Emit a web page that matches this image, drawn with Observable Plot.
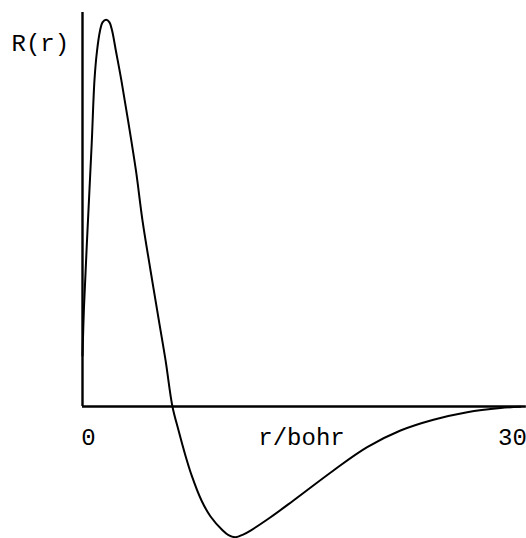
<!DOCTYPE html>
<html>
<head>
<meta charset="utf-8">
<script src="https://cdn.jsdelivr.net/npm/d3@7"></script>
<script src="https://cdn.jsdelivr.net/npm/@observablehq/plot@0.6"></script>
<style>
  html, body { margin: 0; padding: 0; background: #fff; }
  svg { display: block; }
</style>
</head>
<body>
<div id="chart"></div>
<script>
// radial distance r (bohr)
const rValues = [0, 0.10, 0.34, 0.63, 0.82, 0.99, 1.20, 1.37, 1.62, 1.85, 2.03, 2.28, 2.66, 3.12, 3.66,
  4.11, 4.66, 5.23, 5.69, 6.16, 6.58, 6.99, 7.50, 8.15, 8.77, 9.59, 10.0, 10.48, 11.0, 11.51, 12.88, 14.45, 17.19, 19.50,
  21.78, 24.04, 26.35, 28.63, 30];
// radial function R(r) (arbitrary units)
const RValues = [0.39, 0.76, 1.35, 2.02, 2.51, 2.73, 2.89, 2.954, 2.975, 2.954, 2.89, 2.74, 2.51, 2.2, 1.815,
  1.43, 1.046, 0.662, 0.354, 0, -0.185, -0.354, -0.538, -0.723, -0.846, -0.952, -0.99, -1.005, -0.985, -0.954, -0.852, -0.723, -0.492, -0.313,
  -0.185, -0.102, -0.044, -0.012, -0.002];
const xTickValues = [0, 30];
const xTickLabels = ["0", "30"];
const xLabel = "r/bohr";
const yLabel = "R(r)";
const xDomain = [0, 30];
const yDomain = [-1.0, 3.03];
const xAxisEnd = 30.4;

const curve = rValues.map((r, i) => ({r, R: RValues[i]}));
const ticks = xTickValues.map((v, i) => ({v, label: xTickLabels[i]}));

const font = "Liberation Mono, Courier New, monospace";

const chart = Plot.plot({
  width: 526,
  height: 538,
  marginLeft: 82,
  marginRight: 6,
  marginTop: 12,
  marginBottom: 2,
  style: {background: "#fff", fontFamily: font, fontSize: "24px", color: "#000"},
  x: {domain: xDomain, axis: null},
  y: {domain: yDomain, axis: null},
  marks: [
    Plot.ruleY([0], {x1: xDomain[0], x2: xAxisEnd, stroke: "#000", strokeWidth: 2.4, clip: false}),
    Plot.ruleX([0], {y1: 0, y2: yDomain[1], stroke: "#000", strokeWidth: 2.4}),
    Plot.line(curve, {x: "r", y: "R", curve: "catmull-rom", stroke: "#000", strokeWidth: 2}),
    Plot.text(ticks.filter(d => d.v === xTickValues[0]), {x: "v", y: () => 0, text: "label", dy: 31, dx: 6, fontSize: 24, fontFamily: font, fill: "#000"}),
    Plot.text(ticks.filter(d => d.v === xTickValues[1]), {x: "v", y: () => 0, text: "label", dy: 31, dx: -8, fontSize: 24, fontFamily: font, fill: "#000"}),
    Plot.text([xLabel], {y: () => 0, frameAnchor: "middle", text: d => d, dy: 31, fontSize: 24, fontFamily: font, fill: "#000"}),
    Plot.text([yLabel], {frameAnchor: "top-left", text: d => d, textAnchor: "start", lineAnchor: "middle", dx: -71, dy: 31, fontSize: 24, fontFamily: font, fill: "#000"})
  ]
});
document.getElementById("chart").appendChild(chart);
</script>
</body>
</html>
